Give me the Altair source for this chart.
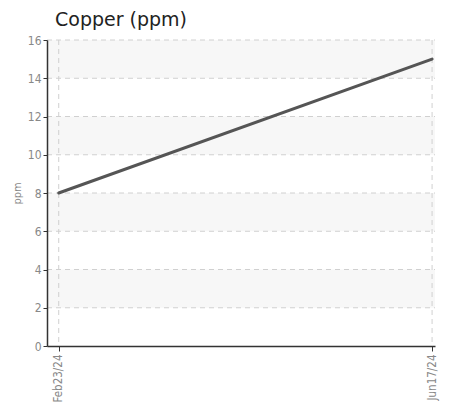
import altair as alt
import pandas as pd

dates = ["2024-02-23", "2024-06-17"]
copper = [8, 15]
y_ticks = [0, 2, 4, 6, 8, 10, 12, 14, 16]
band_lo = [2, 6, 10, 14]
band_hi = [4, 8, 12, 16]
x_domain = ["2024-02-19T09:20:00", "2024-06-17T21:40:00"]

df = pd.DataFrame({"date": dates, "value": copper})
bands = pd.DataFrame({"lo": band_lo, "hi": band_hi})
ygrid = pd.DataFrame({"v": y_ticks[1:]})
xgrid = pd.DataFrame({"date": dates})

LABEL_FONT = "DejaVu Sans Condensed, sans-serif"
W = 388
H = 306

xscale = alt.Scale(domain=x_domain)
yscale = alt.Scale(domain=[0, 16])

xaxis = alt.Axis(values=dates, format="%b%d/%y", labelAngle=-90,
                 title=None, grid=False, zindex=1,
                 domainColor="#333333", tickColor="#333333", tickSize=5,
                 labelColor="#888888", labelFont=LABEL_FONT, labelFontSize=11.5,
                 labelPadding=3)
yaxis = alt.Axis(values=y_ticks, title="ppm", zindex=1,
                 titleFont=LABEL_FONT, titleFontSize=11, titleFontWeight="normal",
                 titleColor="#888888", titlePadding=5,
                 grid=False,
                 domainColor="#333333", tickColor="#333333", tickSize=4,
                 labelColor="#888888", labelFont=LABEL_FONT, labelFontSize=12,
                 labelPadding=2)

band_layer = alt.Chart(bands).mark_rect(color="#f7f7f7").encode(
    y=alt.Y("lo:Q", scale=yscale, axis=yaxis),
    y2="hi:Q",
    x=alt.value(0),
    x2=alt.value(W),
)

ygrid_layer = alt.Chart(ygrid).mark_rule(color="#d0d0d0", strokeDash=[5, 4], strokeWidth=1).encode(
    y=alt.Y("v:Q", scale=yscale, axis=yaxis),
    x=alt.value(0),
    x2=alt.value(W),
)

xgrid_layer = alt.Chart(xgrid).mark_rule(color="#d0d0d0", strokeDash=[5, 4], strokeWidth=1).encode(
    x=alt.X("date:T", scale=xscale, axis=xaxis),
    y=alt.value(0),
    y2=alt.value(H),
)

line = alt.Chart(df).mark_line(color="#555555", strokeWidth=3, strokeCap="round").encode(
    x=alt.X("date:T", scale=xscale, axis=xaxis),
    y=alt.Y("value:Q", scale=yscale, axis=yaxis),
)

chart = alt.layer(band_layer, ygrid_layer, xgrid_layer, line).properties(
    width=W,
    height=H,
    autosize=alt.AutoSizeParams(type="none"),
    padding={"left": 39, "top": 32, "right": 6, "bottom": 56},
    title=alt.TitleParams("Copper (ppm)", anchor="start", frame="group", dx=8,
                          font="DejaVu Sans", fontSize=19, fontWeight="normal",
                          color="#222222", offset=4),
).configure_view(stroke=None).configure_axis(domainWidth=1.5)

chart.save("out.html", embed_options={"renderer": "svg", "actions": False})
